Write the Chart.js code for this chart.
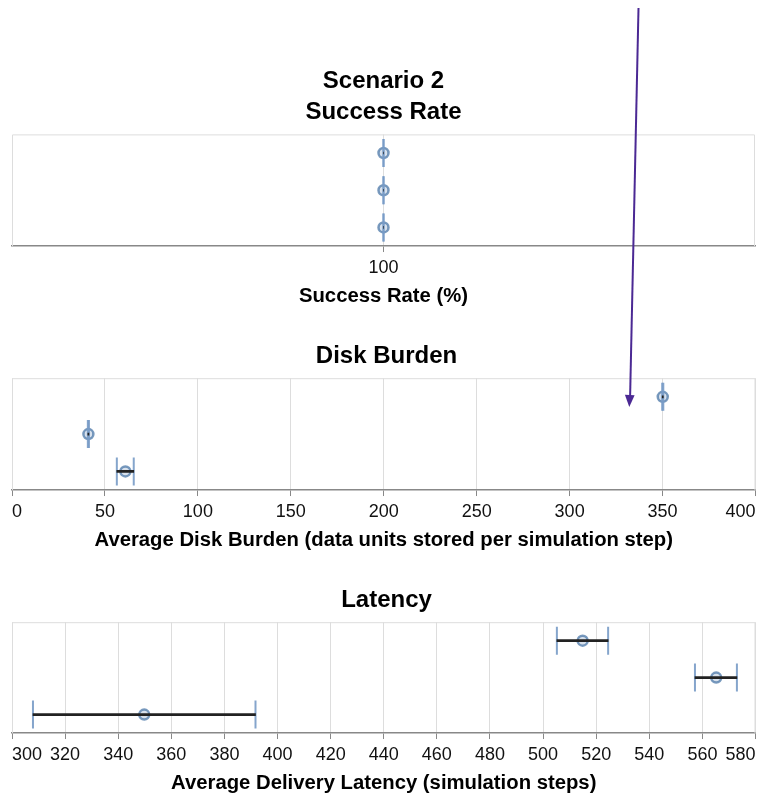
<!DOCTYPE html>
<html>
<head>
<meta charset="utf-8">
<script src="https://cdn.jsdelivr.net/npm/chart.js@4/dist/chart.umd.min.js"></script>
<style>
  html, body { margin: 0; padding: 0; background: #fff; width: 759px; height: 793px; overflow: hidden; }
  canvas { position: absolute; left: 0; }
  #arrow { position: absolute; left: 0; top: 0; pointer-events: none; }
</style>
</head>
<body>
<canvas id="success"></canvas>
<canvas id="disk"></canvas>
<canvas id="latency"></canvas>
<svg id="arrow" width="759" height="793" xmlns="http://www.w3.org/2000/svg">
  <line x1="638.5" y1="8" x2="630.1" y2="397" stroke="#4B2994" stroke-width="2"/>
  <polygon points="629.3,407 624.9,394.8 634.6,395.2" fill="#4B2994"/>
</svg>
<script>
// ---- data ----
const rowLabels = ['Group 1', 'Group 2', 'Group 3'];

const successMean = [100, 100, 100];
const successLow  = [100, 100, 100];
const successHigh = [100, 100, 100];
const successTicks = [100];

const diskMean = [350.1, 41.1, 61.0];
const diskLow  = [349.8, 40.8, 56.4];
const diskHigh = [350.4, 41.4, 65.5];
const diskTicks = [0, 50, 100, 150, 200, 250, 300, 350, 400];

const latencyMean = [514.9, 565.2, 349.8];
const latencyLow  = [505.2, 557.2, 307.9];
const latencyHigh = [524.5, 573.0, 391.7];
const latencyTicks = [300, 320, 340, 360, 380, 400, 420, 440, 460, 480, 500, 520, 540, 560, 580];

// ---- styling ----
const FONT = "'Liberation Sans', Arial, Helvetica, sans-serif";
Chart.defaults.font.family = FONT;
Chart.defaults.color = '#111';

const framePlugin = {
  id: 'frame',
  beforeDatasetsDraw(chart) {
    const a = chart.chartArea, ctx = chart.ctx;
    ctx.save();
    ctx.strokeStyle = '#dddddd';
    ctx.lineWidth = 1;
    ctx.beginPath();
    ctx.moveTo(a.left + 0.5, a.bottom);
    ctx.lineTo(a.left + 0.5, a.top + 0.5);
    ctx.lineTo(a.right - 0.5, a.top + 0.5);
    ctx.lineTo(a.right - 0.5, a.bottom);
    ctx.stroke();
    ctx.restore();
  }
};

function makePanel(id, opts) {
  const cv = document.getElementById(id);
  cv.width = opts.width; cv.height = opts.height;
  cv.style.width = opts.width + 'px'; cv.style.height = opts.height + 'px';
  cv.style.top = opts.top + 'px';

  const meanPts = rowLabels.map((r, i) => ({ x: opts.mean[i], y: r }));
  const capPts = [];
  rowLabels.forEach((r, i) => { capPts.push({ x: opts.low[i], y: r }); capPts.push({ x: opts.high[i], y: r }); });
  const ranges = rowLabels.map((r, i) => [opts.low[i], opts.high[i]]);

  return new Chart(cv, {
    type: 'bar',
    data: {
      labels: rowLabels,
      datasets: [
        { type: 'bar', data: ranges, backgroundColor: '#222222', borderWidth: 0,
          barThickness: 2, order: 1 },
        { type: 'scatter', data: capPts, pointStyle: 'line', rotation: 90, radius: 14,
          borderWidth: 2, borderColor: 'rgba(120,155,198,0.9)', order: 2 },
        { type: 'scatter', data: meanPts, pointStyle: 'circle', radius: 5,
          borderWidth: 2.5, borderColor: 'rgba(76,120,168,0.75)',
          backgroundColor: 'rgba(76,120,168,0.22)', order: 3 }
      ]
    },
    options: {
      indexAxis: 'y',
      responsive: false,
      animation: false,
      devicePixelRatio: 1,
      events: [],
      layout: { padding: opts.padding, autoPadding: false },
      plugins: {
        legend: { display: false },
        tooltip: { enabled: false },
        title: {
          display: true, text: opts.title, color: '#000',
          font: { size: 24, weight: 'bold', lineHeight: 1.3 },
          padding: { top: 0, bottom: 6 }
        }
      },
      scales: {
        x: {
          type: 'linear', min: opts.min, max: opts.max, offset: false,
          afterBuildTicks: (s) => { s.ticks = opts.ticks.map(v => ({ value: v })); },
          grid: { color: '#dddddd', tickColor: '#888888', tickLength: 6, drawTicks: true, offset: false },
          border: { display: true, color: '#888888', width: 1.5 },
          ticks: { font: { size: 18 }, color: '#111', padding: 5.5, autoSkip: false,
                   maxRotation: 0, align: opts.align },
          title: { display: true, text: opts.axisTitle, color: '#000',
                   font: { size: 20.3, weight: 'bold', lineHeight: 1.2 }, padding: { top: 0, bottom: 0 } }
        },
        y: {
          type: 'category', labels: rowLabels, offset: true, display: false,
          grid: { display: false }
        }
      }
    },
    plugins: [framePlugin]
  });
}

makePanel('success', {
  top: 66, width: 759, height: 243, padding: { left: 12, right: 4, top: 0, bottom: 0 },
  title: ['Scenario 2', 'Success Rate'], axisTitle: 'Success Rate (%)',
  mean: successMean, low: successLow, high: successHigh,
  min: 99.9, max: 100.1, ticks: successTicks, align: 'center'
});

makePanel('disk', {
  top: 341, width: 761, height: 212, padding: { left: 12, right: 0, top: 0, bottom: 0 },
  title: 'Disk Burden', axisTitle: 'Average Disk Burden (data units stored per simulation step)',
  mean: diskMean, low: diskLow, high: diskHigh,
  min: 0, max: 400, ticks: diskTicks, align: 'inner'
});

makePanel('latency', {
  top: 585, width: 761, height: 211, padding: { left: 12, right: 0, top: 0, bottom: 0 },
  title: 'Latency', axisTitle: 'Average Delivery Latency (simulation steps)',
  mean: latencyMean, low: latencyLow, high: latencyHigh,
  min: 300, max: 580, ticks: latencyTicks, align: 'inner'
});
</script>
</body>
</html>
